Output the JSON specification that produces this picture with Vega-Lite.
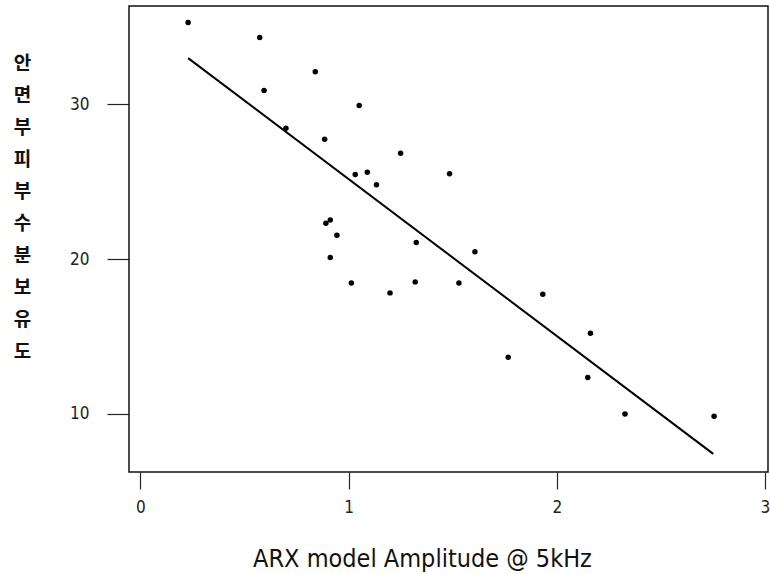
{
  "$schema": "https://vega.github.io/schema/vega-lite/v6.json",
  "width": 639,
  "height": 466,
  "autosize": {"type": "none"},
  "padding": {"left": 129, "top": 6, "right": 2, "bottom": 102},
  "background": "white",
  "config": {
    "view": {"stroke": "#111", "strokeWidth": 1.5},
    "font": "Liberation Sans Narrow, DejaVu Sans Condensed, Liberation Sans, sans-serif"
  },
  "datasets": {
    "pts": [
      {"x": 0.229, "y": 35.28},
      {"x": 0.573, "y": 34.31},
      {"x": 0.840, "y": 32.11},
      {"x": 0.594, "y": 30.89},
      {"x": 1.051, "y": 29.92},
      {"x": 0.699, "y": 28.46},
      {"x": 0.885, "y": 27.75},
      {"x": 1.250, "y": 26.84},
      {"x": 1.485, "y": 25.52},
      {"x": 1.032, "y": 25.46},
      {"x": 1.090, "y": 25.61},
      {"x": 1.134, "y": 24.81},
      {"x": 0.912, "y": 22.53},
      {"x": 0.891, "y": 22.32},
      {"x": 0.944, "y": 21.54},
      {"x": 1.325, "y": 21.07},
      {"x": 0.912, "y": 20.10},
      {"x": 1.013, "y": 18.46},
      {"x": 1.199, "y": 17.82},
      {"x": 1.320, "y": 18.53},
      {"x": 1.530, "y": 18.46},
      {"x": 1.607, "y": 20.48},
      {"x": 1.933, "y": 17.73},
      {"x": 2.162, "y": 15.21},
      {"x": 1.767, "y": 13.66},
      {"x": 2.149, "y": 12.35},
      {"x": 2.328, "y": 10.00},
      {"x": 2.756, "y": 9.85}
    ],
    "fit": [
      {"x": 0.229, "y": 32.98},
      {"x": 2.752, "y": 7.42}
    ]
  },
  "layer": [
    {
      "data": {"name": "fit"},
      "mark": {"type": "line", "color": "black", "strokeWidth": 2},
      "encoding": {
        "x": {
          "field": "x", "type": "quantitative",
          "scale": {"domain": [-0.055, 3.015], "nice": false, "zero": false},
          "axis": {
            "values": [0, 1, 2, 3], "format": "d",
            "grid": false, "domain": false,
            "tickSize": 17, "tickColor": "#222", "tickWidth": 1.2,
            "labelFontSize": 17, "labelColor": "#222", "labelPadding": 10,
            "labelOverlap": false, "labelBound": false, "labelFlush": false,
            "title": "ARX model Amplitude @ 5kHz",
            "titleFontSize": 25, "titleFontWeight": "normal", "titleColor": "#111",
            "titleX": 293, "titleY": 94, "titleAlign": "center", "titleBaseline": "alphabetic"
          }
        },
        "y": {
          "field": "y", "type": "quantitative",
          "scale": {"domain": [6.25, 36.35], "nice": false, "zero": false},
          "axis": {
            "values": [10, 20, 30], "format": "d",
            "grid": false, "domain": false,
            "tickSize": 22, "tickColor": "#222", "tickWidth": 1.2,
            "labelFontSize": 17, "labelColor": "#222", "labelPadding": 18,
            "title": ["안", "면", "부", "피", "부", "수", "분", "보", "유", "도"],
            "titleFontSize": 19, "titleFontWeight": "bold", "titleColor": "#111",
            "titleFont": "Noto Sans CJK KR",
            "titleAngle": 0, "titleLineHeight": 32,
            "titleX": -107, "titleY": 63, "titleAlign": "center", "titleBaseline": "alphabetic"
          }
        }
      }
    },
    {
      "data": {"name": "pts"},
      "mark": {"type": "circle", "color": "black", "opacity": 1, "size": 30},
      "encoding": {
        "x": {"field": "x", "type": "quantitative"},
        "y": {"field": "y", "type": "quantitative"}
      }
    }
  ]
}
